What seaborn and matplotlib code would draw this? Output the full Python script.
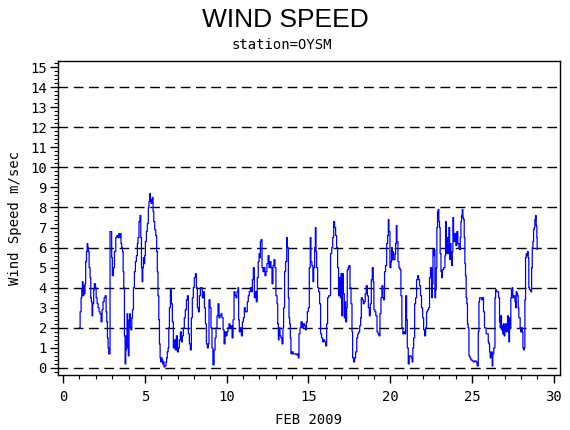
import numpy as np
import pandas as pd
import matplotlib
matplotlib.use("Agg")
import matplotlib.pyplot as plt
from matplotlib.ticker import MultipleLocator
import seaborn as sns

# ── data: wind speed (m/s) vs day of Feb 2009 ──
day = [
    0.98, 1.04, 1.10, 1.14, 1.18, 1.22, 1.26, 1.30, 1.34, 1.38, 1.43, 1.47, 1.51, 1.55, 1.59,
    1.65, 1.69, 1.73, 1.77, 1.81, 1.87, 1.91, 1.98, 2.02, 2.08, 2.14, 2.20, 2.26, 2.32, 2.38,
    2.44, 2.51, 2.57, 2.63, 2.67, 2.71, 2.75, 2.79, 2.83, 2.87, 2.93, 2.97, 3.01, 3.08, 3.14,
    3.18, 3.22, 3.28, 3.34, 3.40, 3.46, 3.50, 3.54, 3.58, 3.63, 3.67, 3.71, 3.75, 3.79, 3.83,
    3.87, 3.91, 3.95, 3.99, 4.03, 4.07, 4.11, 4.15, 4.20, 4.24, 4.30, 4.36, 4.42, 4.48, 4.54,
    4.58, 4.64, 4.70, 4.75, 4.79, 4.83, 4.87, 4.91, 4.95, 4.99, 5.03, 5.09, 5.15, 5.21, 5.25,
    5.30, 5.34, 5.38, 5.42, 5.46, 5.50, 5.54, 5.60, 5.66, 5.72, 5.76, 5.80, 5.85, 5.89, 5.93,
    5.97, 6.01, 6.05, 6.09, 6.13, 6.17, 6.23, 6.29, 6.33, 6.37, 6.42, 6.46, 6.50,
    6.56, 6.62, 6.68, 6.74, 6.80, 6.86, 6.92, 6.99, 7.05, 7.11, 7.17, 7.23, 7.29, 7.35, 7.41,
    7.47, 7.54, 7.60, 7.66, 7.72, 7.78, 7.84, 7.90, 7.96, 8.02, 8.09, 8.15, 8.21, 8.27, 8.33,
    8.39, 8.45, 8.51, 8.57, 8.64, 8.70, 8.76, 8.82, 8.88, 8.92, 8.98, 9.04, 9.10, 9.16, 9.23,
    9.29, 9.35, 9.41, 9.47, 9.53, 9.59, 9.65, 9.71, 9.78, 9.84, 9.90, 9.96, 10.02, 10.08, 10.14,
    10.20, 10.26, 10.33, 10.39, 10.45, 10.51, 10.57, 10.63, 10.69, 10.73, 10.77, 10.84, 10.90,
    10.96, 11.02, 11.08, 11.14, 11.20, 11.26, 11.32, 11.38, 11.45, 11.51, 11.57, 11.63, 11.69,
    11.75, 11.81, 11.87, 11.93, 11.98, 12.02, 12.06, 12.10, 12.16, 12.22, 12.28, 12.34, 12.40,
    12.46, 12.53, 12.59, 12.65, 12.71, 12.77, 12.83, 12.89, 12.95, 13.01, 13.08, 13.12, 13.16,
    13.20, 13.26, 13.32, 13.38, 13.44, 13.48, 13.54, 13.60, 13.67, 13.71, 13.77, 13.81, 13.85,
    13.89, 13.93, 13.99, 14.07, 14.15, 14.24, 14.32, 14.38,
    14.42, 14.48, 14.54, 14.62, 14.68, 14.75, 14.81, 14.87, 14.93, 14.99, 15.05, 15.11, 15.15,
    15.21, 15.27, 15.32, 15.38, 15.42, 15.46, 15.50, 15.56, 15.62, 15.68, 15.74, 15.80, 15.87,
    15.93, 15.99, 16.05, 16.11, 16.17, 16.23, 16.29, 16.35, 16.42, 16.48, 16.54, 16.60, 16.66,
    16.72, 16.78, 16.84, 16.88, 16.95, 16.99, 17.03, 17.09, 17.13, 17.19, 17.23, 17.27, 17.33,
    17.37, 17.43, 17.47, 17.54, 17.60, 17.66, 17.70, 17.76, 17.82, 17.88, 17.95, 18.01, 18.07,
    18.13, 18.19, 18.23, 18.29, 18.35, 18.41, 18.47, 18.53, 18.60, 18.66, 18.72, 18.78, 18.84,
    18.90, 18.96, 19.00, 19.06, 19.12, 19.19, 19.25, 19.31, 19.37, 19.43, 19.49, 19.55, 19.59,
    19.65, 19.71, 19.78, 19.84, 19.88, 19.92, 19.98, 20.04, 20.08, 20.12, 20.16, 20.20, 20.24,
    20.29, 20.33, 20.37, 20.41, 20.47, 20.53, 20.59, 20.65, 20.71, 20.77, 20.83, 20.90, 20.94,
    21.00, 21.04, 21.10, 21.16, 21.22, 21.28, 21.34, 21.38, 21.43, 21.49, 21.55, 21.61, 21.67,
    21.73, 21.79, 21.85, 21.91, 21.98, 22.04, 22.10, 22.16, 22.22, 22.28, 22.34, 22.40, 22.46,
    22.53, 22.57, 22.61, 22.65, 22.69, 22.73, 22.77, 22.81, 22.85, 22.89, 22.93, 22.97, 23.01,
    23.05, 23.10, 23.14, 23.18, 23.22, 23.26, 23.30, 23.34, 23.38, 23.42, 23.46, 23.50, 23.54,
    23.58, 23.63, 23.67, 23.71, 23.75, 23.79, 23.83, 23.87, 23.91, 23.95, 24.01, 24.07, 24.13,
    24.20, 24.24, 24.28, 24.32, 24.36, 24.40, 24.44, 24.48, 24.52, 24.56, 24.60, 24.64, 24.68,
    24.72, 24.76, 24.81, 24.87, 24.93, 25.01, 25.09, 25.17, 25.25, 25.31, 25.38, 25.42, 25.46,
    25.52, 25.58, 25.64, 25.70, 25.76, 25.82, 25.86, 25.93, 25.99, 26.03, 26.07, 26.11, 26.15,
    26.19, 26.23, 26.27, 26.33, 26.40, 26.44, 26.50, 26.56, 26.62, 26.68, 26.72, 26.76, 26.80,
    26.84, 26.88, 26.92, 26.96, 27.01, 27.05, 27.09, 27.13, 27.17, 27.21, 27.25, 27.29, 27.33,
    27.37, 27.41, 27.45, 27.49, 27.54, 27.58, 27.62, 27.66, 27.70, 27.74, 27.78, 27.82, 27.86,
    27.90, 27.94, 27.98, 28.02, 28.07, 28.11, 28.15, 28.19, 28.23, 28.27, 28.31, 28.35, 28.39,
    28.43, 28.47, 28.51, 28.55, 28.59, 28.64, 28.68, 28.72, 28.76, 28.80, 28.84, 28.88, 28.92,
    28.96, 28.98,
]
speed = [
    2.0, 2.8, 3.5, 3.9, 4.3, 3.6, 4.1, 3.7, 4.2, 5.3, 5.8, 6.2, 6.0, 5.8, 5.0,
    4.5, 3.5, 3.3, 2.6, 3.2, 3.9, 4.2, 4.0, 3.5, 3.2, 3.0, 2.8, 2.7, 2.3, 2.9,
    3.3, 3.5, 3.6, 2.8, 2.3, 1.5, 1.0, 0.7, 0.7, 6.8, 6.8, 5.5, 4.6, 5.0, 5.8,
    5.8, 6.5, 6.6, 6.5, 6.7, 6.5, 6.7, 6.2, 6.0, 5.8, 4.8, 4.0, 1.6, 0.2, 0.9,
    1.6, 2.7, 1.0, 0.6, 2.4, 2.7, 2.0, 1.9, 2.5, 2.9, 4.0, 4.8, 5.3, 5.6, 6.2,
    6.5, 7.3, 7.6, 6.5, 5.0, 4.3, 5.0, 5.5, 5.2, 5.6, 6.3, 6.8, 7.2, 8.0, 8.3,
    8.7, 8.3, 8.2, 8.4, 8.5, 7.8, 7.3, 6.9, 6.6, 5.8, 4.8, 3.6, 2.4, 1.2, 0.5,
    0.3, 0.5, 0.4, 0.2, 0.3, 0.05, 0.1, 0.3, 0.5, 0.8, 1.0, 2.0, 3.0,
    3.9, 3.2, 2.3, 1.0, 1.4, 0.9, 1.6, 0.8, 1.0, 1.4, 1.8, 1.3, 1.6, 2.0, 2.5,
    2.9, 3.4, 3.6, 1.7, 1.2, 0.9, 2.5, 3.5, 4.0, 4.5, 4.7, 4.0, 3.0, 2.8, 3.6,
    4.0, 4.0, 3.5, 3.8, 3.0, 2.2, 1.2, 1.0, 1.2, 3.4, 3.0, 2.0, 1.0, 0.15, 0.9,
    1.5, 2.0, 2.6, 3.2, 2.5, 2.6, 2.7, 2.5, 1.9, 1.2, 1.8, 1.6, 1.8, 2.0, 2.2,
    2.0, 2.1, 1.5, 2.4, 3.8, 3.6, 3.5, 3.8, 4.0, 2.4, 1.8, 2.0, 1.6,
    2.3, 2.5, 3.0, 2.8, 2.8, 3.3, 3.6, 3.8, 4.0, 3.8, 4.4, 5.0, 3.5,
    3.8, 3.3, 4.5, 5.3, 5.7, 5.5, 6.3, 6.4, 5.0, 4.8, 5.0, 4.6, 4.8,
    5.2, 5.6, 5.0, 5.3, 5.0, 4.2, 5.1, 5.4, 5.0, 3.6, 3.2, 2.2, 1.4,
    2.0, 1.6, 1.5, 1.2, 2.0, 3.0, 4.8, 5.3, 6.5, 6.0, 3.5, 2.5, 2.2,
    1.5, 0.7, 0.8, 0.7, 0.7, 0.65, 0.7, 0.5,
    1.7, 2.0, 2.3, 2.0, 2.2, 2.1, 1.9, 2.3, 2.8, 3.0, 5.0, 6.5, 5.3,
    5.1, 4.3, 5.0, 6.0, 7.0, 5.8, 5.0, 4.0, 3.8, 3.2, 1.7, 1.5, 1.3,
    1.4, 1.3, 1.1, 2.2, 3.5, 3.6, 3.6, 5.7, 6.0, 6.5, 7.3, 7.0, 6.6,
    6.0, 5.0, 3.6, 4.5, 3.5, 4.7, 2.6, 4.7, 3.7, 2.5, 3.3, 2.3, 3.0,
    4.9, 5.0, 5.1, 4.0, 3.2, 1.8, 0.5, 0.3, 0.5, 0.8, 1.5, 1.7, 1.8,
    2.1, 2.5, 3.5, 3.4, 3.2, 3.3, 3.7, 4.1, 3.6, 3.0, 2.6, 3.2, 4.4,
    5.0, 4.3, 2.9, 2.8, 2.6, 1.8, 1.7, 1.6, 2.7, 3.5, 4.1, 3.5, 3.4,
    4.8, 5.1, 6.2, 6.6, 7.4, 6.8, 5.0, 5.3, 6.0, 5.4, 5.8, 5.4, 5.4,
    5.7, 6.2, 7.1, 6.3, 5.3, 5.0, 4.9, 3.6, 2.0, 1.7, 1.8, 1.7, 3.6,
    2.4, 1.0, 0.2, 0.6, 0.6, 0.5, 0.3, 1.0, 1.5, 3.2, 3.5, 4.4, 4.6,
    4.4, 4.1, 3.6, 3.0, 2.5, 1.9, 1.6, 2.0, 2.8, 2.9, 3.0, 4.5, 5.0,
    3.5, 4.2, 5.9, 5.6, 5.9, 3.5, 3.9, 5.0, 7.0, 7.8, 7.9, 7.3, 7.0,
    5.7, 4.8, 4.5, 4.9, 4.9, 5.0, 5.0, 5.6, 7.3, 6.5, 5.7, 6.5, 5.7,
    7.0, 5.4, 6.2, 5.5, 5.1, 5.8, 7.5, 6.6, 6.3, 6.7, 6.1, 6.8, 6.2,
    6.0, 5.9, 6.5, 7.3, 7.6, 7.9, 7.5, 7.4, 6.5, 5.2, 4.6, 3.5, 3.2,
    2.2, 2.0, 0.6, 0.5, 0.4, 0.35, 0.3, 0.35, 0.3, 0.1, 1.8, 3.3, 3.5,
    3.5, 3.4, 3.5, 2.8, 2.0, 2.0, 1.7, 1.7, 1.3, 1.2, 0.8, 0.5, 0.6,
    0.8, 0.1, 0.7, 1.0, 3.5, 3.9, 3.8, 3.8, 3.5, 2.3, 2.0, 2.6, 1.9,
    2.1, 1.7, 2.2, 1.6, 2.1, 2.2, 1.8, 2.1, 2.6, 1.8, 1.3, 2.5, 2.0,
    3.5, 3.9, 4.0, 3.5, 3.6, 3.6, 3.3, 3.0, 3.8, 3.7, 3.6, 3.0, 2.5,
    2.5, 2.0, 1.8, 2.0, 1.8, 1.0, 0.9, 1.0, 3.4, 5.5, 5.7, 5.6, 5.8,
    5.5, 4.0, 3.9, 3.9, 3.8, 5.0, 6.0, 6.3, 6.9, 7.0, 7.4, 7.6, 7.1,
    6.5, 5.9,
]

title = "WIND SPEED"
subtitle = "station=OYSM"
xlabel = "FEB 2009"
ylabel = "Wind Speed m/sec"
ref_levels = [0, 2, 4, 6, 8, 10, 12, 14]

df = pd.DataFrame({"day": day, "speed": speed})

# ── style ──
sns.set_style("white")
plt.rcParams["font.family"] = ["DejaVu Sans"]
plt.rcParams["text.color"] = "black"
plt.rcParams["axes.labelcolor"] = "black"
plt.rcParams["xtick.color"] = "black"
plt.rcParams["ytick.color"] = "black"
mono = "DejaVu Sans Mono"

fig = plt.figure(figsize=(5.7, 4.3), dpi=100)
ax = fig.add_axes([0.1018, 0.128, 0.8802, 0.730])

for lv in ref_levels:
    ax.axhline(lv, color="black", linewidth=1.0, linestyle=(0, (7, 4)), zorder=1)

sns.lineplot(data=df, x="day", y="speed", estimator=None, sort=False,
             color="#0000ff", linewidth=0.9, drawstyle="steps-post", ax=ax, zorder=2)

ax.set_xlim(-0.31, 30.36)
ax.set_ylim(-0.35, 15.3)

ax.xaxis.set_major_locator(MultipleLocator(5))
ax.xaxis.set_minor_locator(MultipleLocator(1))
ax.yaxis.set_major_locator(MultipleLocator(1))
ax.yaxis.set_minor_locator(MultipleLocator(0.2))
ax.tick_params(axis="both", which="both", bottom=True, left=True,
               top=False, right=False, direction="out", colors="black")
ax.tick_params(axis="both", which="major", length=6, width=1, labelsize=10, pad=2)
ax.tick_params(axis="both", which="minor", length=3, width=0.8)
ax.tick_params(axis="x", which="major", pad=5)
for lab in ax.get_xticklabels() + ax.get_yticklabels():
    lab.set_fontfamily(mono)

for sp in ax.spines.values():
    sp.set_visible(True)
    sp.set_color("black")
    sp.set_linewidth(1.0)

ax.set_xlabel(xlabel, fontfamily=mono, fontsize=10, labelpad=6, color="black")
ax.set_ylabel(ylabel, fontfamily=mono, fontsize=10, labelpad=6, color="black")

fig.text(0.5, 0.953, title, ha="center", va="center", fontsize=19,
         family="Liberation Sans", color="black")
fig.text(0.495, 0.895, subtitle, ha="center", va="center", fontsize=10,
         family=mono, color="black")

fig.savefig("out.png", dpi=100, facecolor="white")
plt.close(fig)
